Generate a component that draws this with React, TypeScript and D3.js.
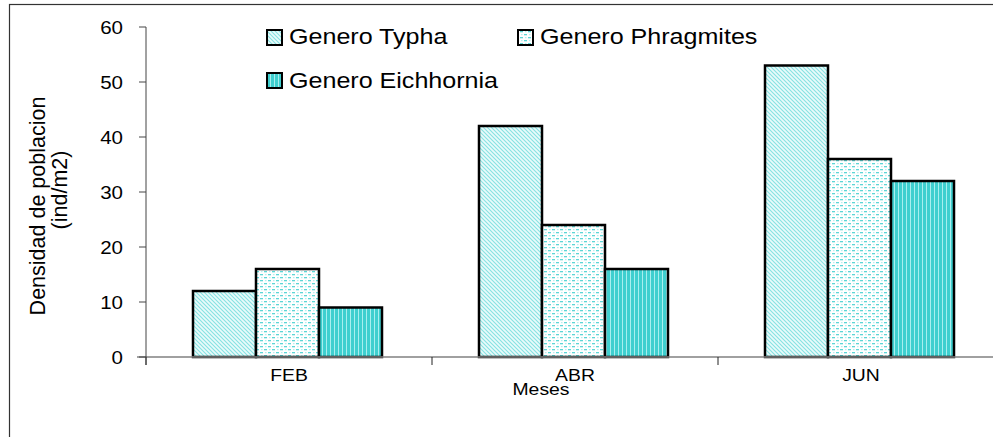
import React from "react";
import * as d3 from "d3";

const months = ["FEB", "ABR", "JUN"];
const seriesNames = ["Genero Typha", "Genero Phragmites", "Genero Eichhornia"];
const typha = [12, 42, 53];
const phragmites = [16, 24, 36];
const eichhornia = [9, 16, 32];
const yTicks = [0, 10, 20, 30, 40, 50, 60];

const W = 993;
const H = 437;
const FONT = "Liberation Sans, Arial, sans-serif";
const SX = 1.14; // horizontal text stretch

export default function App() {
  const x0 = 146;
  const step = 286;
  const y = d3.scaleLinear().domain([0, 60]).range([357, 27]);
  const xCat = d3.scaleBand().domain(months).range([x0, x0 + step * 3]).paddingInner(0).paddingOuter(0);
  const groupInset = 47;
  const barW = 63;
  const series = [typha, phragmites, eichhornia];
  const fills = ["url(#pTypha)", "url(#pPhrag)", "url(#pEich)"];

  const sText = (tx: number, ty: number, s: string, size: number, anchor: string, key?: string) => (
    <g key={key} transform={`translate(${tx},${ty}) scale(${SX},1)`}>
      <text x={0} y={0} fontSize={size} fontFamily={FONT} textAnchor={anchor} fill="#000">
        {s}
      </text>
    </g>
  );

  return (
    <svg width={W} height={H} style={{ position: "absolute", left: 0, top: 0, background: "#fff" }}>
      <defs>
        <pattern id="pTypha" width="4" height="4" patternUnits="userSpaceOnUse">
          <rect width="4" height="4" fill="#eafbfb" />
          <path d="M-1,-1 L5,5 M-1,3 L1,5 M3,-1 L5,1" stroke="#86e2e2" strokeWidth="1.1" />
        </pattern>
        <pattern id="pPhrag" width="8" height="6" patternUnits="userSpaceOnUse">
          <rect width="8" height="6" fill="#ffffff" />
          <rect x="0" y="1" width="3" height="1.3" fill="#5cd6d6" />
          <rect x="4" y="4" width="3" height="1.3" fill="#5cd6d6" />
          <rect x="5" y="1" width="1.5" height="1.2" fill="#b8eeee" />
          <rect x="1" y="4" width="1.5" height="1.2" fill="#b8eeee" />
        </pattern>
        <pattern id="pEich" width="4" height="4" patternUnits="userSpaceOnUse">
          <rect width="4" height="4" fill="#3fcfcf" />
          <rect x="2" y="0" width="1" height="4" fill="#a8efef" />
        </pattern>
      </defs>

      {/* outer frame */}
      <rect x={9.5} y={4.5} width={1000} height={450} fill="none" stroke="#333" strokeWidth={1.2} />

      {/* bars */}
      {months.map((m, i) => {
        const gx = (xCat(m) as number) + groupInset;
        return series.map((vals, k) => (
          <rect
            key={`${m}-${k}`}
            x={gx + k * barW}
            y={y(vals[i])}
            width={barW}
            height={y(0) - y(vals[i])}
            fill={fills[k]}
            stroke="#000"
            strokeWidth={2.5}
          />
        ));
      })}

      {/* x axis */}
      <line x1={137} x2={W} y1={y(0)} y2={y(0)} stroke="#808080" strokeWidth={1.5} />
      {months.map((m) => (
        <line key={m} x1={xCat(m) as number} x2={xCat(m) as number} y1={y(0)} y2={y(0) + 8} stroke="#222" strokeWidth={1} />
      ))}
      {months.map((m) => sText((xCat(m) as number) + step / 2, 381, m, 17, "middle", m))}
      {sText(541, 395, "Meses", 17, "middle")}

      {/* y axis */}
      <line x1={x0} x2={x0} y1={y(60)} y2={y(0) + 8} stroke="#444" strokeWidth={1} />
      {yTicks.map((t) => (
        <line key={t} x1={139} x2={x0} y1={y(t)} y2={y(t)} stroke="#444" strokeWidth={1} />
      ))}
      {yTicks.map((t) => sText(123, y(t) + 6.5, String(t), 18, "end", `l${t}`))}

      {/* y axis title */}
      <g transform="translate(45,206) rotate(-90)">
        <text x={0} y={0} fontSize={21.5} fontFamily={FONT} textAnchor="middle">
          Densidad de poblacion
        </text>
      </g>
      <g transform="translate(67,190) rotate(-90)">
        <text x={0} y={0} fontSize={21.5} fontFamily={FONT} textAnchor="middle">
          (ind/m2)
        </text>
      </g>

      {/* legend */}
      {[
        { x: 267, y: 30, ty: 44, i: 0 },
        { x: 518, y: 30, ty: 44, i: 1 },
        { x: 267, y: 73, ty: 88, i: 2 },
      ].map((e) => (
        <g key={e.i}>
          <rect x={e.x} y={e.y} width={15} height={15} fill={fills[e.i]} stroke="#000" strokeWidth={2} />
          {sText(e.x + 22, e.ty, seriesNames[e.i], 22, "start")}
        </g>
      ))}
    </svg>
  );
}
